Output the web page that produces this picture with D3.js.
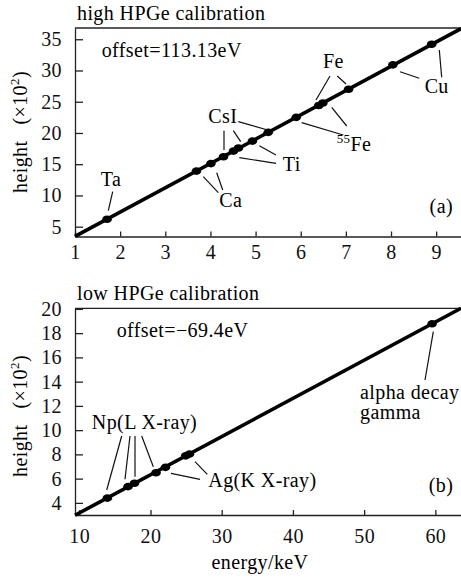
<!DOCTYPE html>
<html>
<head>
<meta charset="utf-8">
<script src="https://cdn.jsdelivr.net/npm/d3@7"></script>
<style>
  body { margin: 0; background: #fff; }
  svg { display: block; font-family: "Liberation Serif", "Times New Roman", serif; }
  svg text { letter-spacing: 0.4px; }
  .axis path, .axis line { stroke: #222; stroke-width: 1.3; }
  .axis text { font-size: 20px; fill: #111; font-family: "Liberation Serif", serif; }
</style>
</head>
<body>
<svg width="461" height="578"></svg>
<script>
// high HPGe calibration (keV, height x10^2)
var highEnergy = [1.71, 3.69, 4.01, 4.29, 4.51, 4.62, 4.93, 5.28, 5.90, 6.40, 6.49, 7.06, 8.04, 8.90];
var highHeight = [6.2, 13.9, 15.1, 16.2, 17.1, 17.6, 18.7, 20.1, 22.5, 24.4, 24.8, 27.0, 30.9, 34.2];
var highFitEnergy = [1.0, 9.55];
var highFitHeight = [3.45, 36.7];
var highXTicks = [1, 2, 3, 4, 5, 6, 7, 8, 9];
var highYTicks = [5, 10, 15, 20, 25, 30, 35];

// low HPGe calibration
var lowEnergy = [13.94, 16.84, 17.75, 20.78, 22.10, 24.94, 25.46, 59.54];
var lowHeight = [4.39, 5.34, 5.62, 6.49, 6.93, 7.88, 8.02, 18.77];
var lowFitEnergy = [9.4, 63.6];
var lowFitHeight = [2.98, 20.05];
var lowXTicks = [10, 20, 30, 40, 50, 60];
var lowYTicks = [4, 6, 8, 10, 12, 14, 16, 18, 20];

var svg = d3.select("svg");

function panel(opt) {
  var g = svg.append("g");
  var x = d3.scaleLinear().domain(opt.xDomain).range([75, 461]);
  var y = d3.scaleLinear().domain(opt.yDomain).range([opt.bottom, opt.top]);

  // top frame
  g.append("line")
    .attr("x1", 75).attr("x2", 461)
    .attr("y1", opt.top).attr("y2", opt.top)
    .attr("stroke", "#222").attr("stroke-width", 1.3);

  g.append("g")
    .attr("class", "axis")
    .attr("transform", "translate(0," + opt.bottom + ")")
    .call(d3.axisBottom(x).tickValues(opt.xTicks).tickSizeInner(-5).tickSizeOuter(0).tickPadding(opt.xPad));

  g.append("g")
    .attr("class", "axis")
    .attr("transform", "translate(75,0)")
    .call(d3.axisLeft(y).tickValues(opt.yTicks).tickSizeInner(-8).tickSizeOuter(0).tickPadding(13));

  // fit line
  var fit = opt.fitE.map(function(e, i) { return [e, opt.fitH[i]]; });
  g.append("path")
    .datum(fit)
    .attr("fill", "none")
    .attr("stroke", "#000")
    .attr("stroke-width", 3.6)
    .attr("d", d3.line().x(function(d) { return x(d[0]); }).y(function(d) { return y(d[1]); }));

  var pts = opt.energy.map(function(e, i) { return [e, opt.height[i]]; });
  g.selectAll("ellipse.pt")
    .data(pts)
    .enter()
    .append("ellipse")
      .attr("class", "pt")
      .attr("cx", function(d) { return x(d[0]); })
      .attr("cy", function(d) { return y(d[1]); })
      .attr("rx", 4.8)
      .attr("ry", 3.8)
      .attr("fill", "#000");

  // title
  g.append("text")
    .attr("x", 77).attr("y", opt.top - 8)
    .attr("font-size", 20)
    .text(opt.title);

  // y label
  var yl = g.append("text")
    .attr("transform", "translate(27," + opt.yLabelY + ") rotate(-90)")
    .attr("text-anchor", "middle")
    .attr("font-size", 20);
  yl.append("tspan").text("height");
  yl.append("tspan").attr("dx", 16).text("(\u00d710");
  yl.append("tspan").attr("font-size", 13).attr("dy", -8).text("2");
  yl.append("tspan").attr("dy", 8).text(")");

  // annotations, pixel layout relative to plot corner
  var a = g.append("g").attr("transform", "translate(75," + opt.top + ")");
  opt.labels.forEach(function(l) {
    var t = a.append("text")
      .attr("x", l.x).attr("y", l.y)
      .attr("text-anchor", l.anchor || "start")
      .attr("font-size", 20);
    if (l.sup) {
      t.append("tspan").attr("font-size", 13).attr("dy", -8).text(l.sup);
      t.append("tspan").attr("dy", 8).text(l.text);
    } else {
      t.text(l.text);
    }
  });
  a.selectAll("line.lead")
    .data(opt.leaders)
    .enter()
    .append("line")
      .attr("class", "lead")
      .attr("x1", function(d) { return d[0]; })
      .attr("y1", function(d) { return d[1]; })
      .attr("x2", function(d) { return d[2]; })
      .attr("y2", function(d) { return d[3]; })
      .attr("stroke", "#111")
      .attr("stroke-width", 1.2);
}

panel({
  title: "high HPGe calibration",
  xDomain: [1.0, 9.55], yDomain: [3.43, 36.8],
  top: 28, bottom: 236.5, xPad: 8, yLabelY: 132,
  xTicks: highXTicks, yTicks: highYTicks,
  fitE: highFitEnergy, fitH: highFitHeight,
  energy: highEnergy, height: highHeight,
  labels: [
    {x: 26.7, y: 28.7, text: "offset=113.13eV"},
    {x: 36, y: 158, text: "Ta", anchor: "middle"},
    {x: 155.7, y: 178.7, text: "Ca", anchor: "middle"},
    {x: 147.7, y: 95, text: "CsI", anchor: "middle"},
    {x: 216.7, y: 142.7, text: "Ti", anchor: "middle"},
    {x: 261.7, y: 122.7, text: "Fe", sup: "55"},
    {x: 258.3, y: 40.3, text: "Fe", anchor: "middle"},
    {x: 361.7, y: 65.3, text: "Cu", anchor: "middle"},
    {x: 378, y: 185, text: "(a)", anchor: "end"}
  ],
  leaders: [
    [37.7, 163.7, 33.3, 182.7],
    [128.3, 148.7, 143.3, 164.7], [141.7, 144.7, 147.7, 162],
    [149, 102.7, 149, 122], [158.3, 102.7, 165.7, 113.7], [163.3, 93.7, 192.7, 102],
    [184.3, 117.7, 201, 127], [164.3, 129.7, 201, 135.3],
    [226.7, 94.7, 268.3, 107], [256.7, 79.3, 271.7, 98],
    [255, 48, 241, 72], [262.3, 48, 271, 56],
    [325, 43.7, 344.3, 50.3], [364.3, 22, 366.7, 49.3]
  ]
});

panel({
  title: "low HPGe calibration",
  xDomain: [9.4, 63.6], yDomain: [3.0, 20.05],
  top: 308.3, bottom: 515, xPad: 14, yLabelY: 416,
  xTicks: lowXTicks, yTicks: lowYTicks,
  fitE: lowFitEnergy, fitH: lowFitHeight,
  energy: lowEnergy, height: lowHeight,
  labels: [
    {x: 41.7, y: 28.4, text: "offset=\u221269.4eV"},
    {x: 69.5, y: 121, text: "Np(L X-ray)", anchor: "middle"},
    {x: 133.3, y: 179, text: "Ag(K X-ray)"},
    {x: 285, y: 91, text: "alpha decay"},
    {x: 285, y: 111, text: "gamma"},
    {x: 378.3, y: 183.4, text: "(b)", anchor: "end"}
  ],
  leaders: [
    [46.7, 127.7, 31.7, 181.7], [55, 127.7, 50, 171], [60, 127.7, 60, 168.4], [66.7, 127.7, 78.3, 158.4],
    [96, 165, 125, 171], [120, 153.4, 132.3, 166],
    [358.3, 23.4, 350, 71.7]
  ]
});

svg.append("text")
  .attr("x", 260).attr("y", 569)
  .attr("text-anchor", "middle")
  .attr("font-size", 20)
  .text("energy/keV");
</script>
</body>
</html>
